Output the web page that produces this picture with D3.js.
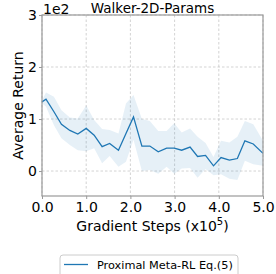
<!DOCTYPE html>
<html lang="en">
<head>
  <meta charset="UTF-8">
  <title>Walker-2D-Params</title>
  <style>
    body { margin: 0; background: #fff; }
    text { font-family: "DejaVu Sans", sans-serif; fill: #000; }
  </style>
</head>
<body>
  <div id="chart"></div>
  <script src="https://d3js.org/d3.v7.min.js"></script>
  <script>
    // gradient steps (x1e5) and return values (x1e2)
    const steps = [0, 0.09, 0.27, 0.44, 0.63, 0.81, 1.00, 1.18, 1.36, 1.53, 1.73, 1.90, 2.07,
      2.26, 2.44, 2.63, 2.82, 2.99, 3.16, 3.35, 3.52, 3.70, 3.88, 4.05, 4.24, 4.42, 4.59, 4.78, 5.0];
    const meanReturn = [1.33, 1.38, 1.14, 0.90, 0.78, 0.71, 0.82, 0.69, 0.47, 0.53, 0.40, 0.72, 1.04,
      0.48, 0.48, 0.37, 0.44, 0.44, 0.40, 0.46, 0.28, 0.30, 0.10, 0.26, 0.21, 0.24, 0.58, 0.52, 0.34];
    const upperReturn = [1.36, 1.51, 1.43, 1.17, 1.03, 1.01, 1.26, 0.98, 0.81, 0.79, 0.72, 1.30, 1.46,
      1.00, 0.96, 0.77, 0.77, 0.92, 0.74, 0.82, 0.66, 0.54, 0.27, 0.58, 0.55, 0.66, 0.96, 0.90, 0.58];
    const lowerReturn = [1.30, 1.24, 0.88, 0.63, 0.50, 0.40, 0.38, 0.44, 0.15, 0.29, 0.08, 0.18, 0.60,
      0.00, 0.02, -0.05, 0.08, -0.05, 0.05, 0.06, -0.13, 0.04, -0.08, -0.06, -0.15, -0.17, 0.20, 0.13, 0.10];
    const xTicks = [0, 1, 2, 3, 4, 5];
    const yTicks = [0, 1, 2, 3];
    const seriesName = "Proximal Meta-RL Eq.(5)";

    const width = 276, height = 274;
    const margin = { left: 42, right: 13, top: 15, bottom: 78 };
    const blue = "#1f77b4";

    const svg = d3.select("#chart").append("svg")
      .attr("width", width).attr("height", height);

    const x = d3.scaleLinear().domain([0, 5]).range([margin.left, width - margin.right]);
    const y = d3.scaleLinear().domain([-0.48, 3]).range([height - margin.bottom, margin.top]);

    // grid
    svg.append("g").selectAll("line").data(xTicks).join("line")
      .attr("x1", d => x(d)).attr("x2", d => x(d))
      .attr("y1", y.range()[1]).attr("y2", y.range()[0])
      .attr("stroke", "#c8c8c8").attr("stroke-width", 0.8).attr("stroke-dasharray", "2.5,2");
    svg.append("g").selectAll("line").data(yTicks).join("line")
      .attr("x1", x.range()[0]).attr("x2", x.range()[1])
      .attr("y1", d => y(d)).attr("y2", d => y(d))
      .attr("stroke", "#c8c8c8").attr("stroke-width", 0.8).attr("stroke-dasharray", "2.5,2");

    const pts = steps.map((s, i) => ({ s, m: meanReturn[i], lo: lowerReturn[i], hi: upperReturn[i] }));

    // std band
    svg.append("path").datum(pts)
      .attr("d", d3.area().x(d => x(d.s)).y0(d => y(d.lo)).y1(d => y(d.hi)))
      .attr("fill", blue).attr("fill-opacity", 0.11);

    svg.append("path").datum(pts)
      .attr("d", d3.line().x(d => x(d.s)).y(d => y(d.m)))
      .attr("fill", "none").attr("stroke", blue).attr("stroke-width", 1.3);

    // axes
    const xAxis = svg.append("g")
      .attr("transform", `translate(0,${height - margin.bottom})`)
      .call(d3.axisBottom(x).tickValues(xTicks).tickFormat(d3.format(".1f")).tickSize(3).tickPadding(3));
    const yAxis = svg.append("g")
      .attr("transform", `translate(${margin.left},0)`)
      .call(d3.axisLeft(y).tickValues(yTicks).tickFormat(d3.format("d")).tickSize(3).tickPadding(2));
    [xAxis, yAxis].forEach(a => {
      a.select(".domain").remove();
      a.selectAll(".tick line").attr("stroke", "#999");
      a.selectAll(".tick text").attr("font-size", 14).attr("font-family", "DejaVu Sans").attr("fill", "#000");
    });

    // frame
    svg.append("rect")
      .attr("x", x.range()[0]).attr("y", y.range()[1])
      .attr("width", x.range()[1] - x.range()[0]).attr("height", y.range()[0] - y.range()[1])
      .attr("fill", "none").attr("stroke", "#999").attr("stroke-width", 1.2);

    svg.append("text").attr("x", 43).attr("y", 14).attr("font-size", 14).text("1e2");
    svg.append("text").attr("x", (x.range()[0] + x.range()[1]) / 2).attr("y", 13)
      .attr("text-anchor", "middle").attr("font-size", 13.5).text("Walker-2D-Params");

    svg.append("text")
      .attr("transform", `translate(23,${(y.range()[0] + y.range()[1]) / 2}) rotate(-90)`)
      .attr("text-anchor", "middle").attr("font-size", 14).text("Average Return");

    const xl = svg.append("text").attr("x", (x.range()[0] + x.range()[1]) / 2).attr("y", 231)
      .attr("text-anchor", "middle").attr("font-size", 14);
    xl.append("tspan").text("Gradient Steps (x10");
    xl.append("tspan").attr("dy", -6).attr("font-size", 10).text("5");
    xl.append("tspan").attr("dy", 6).text(")");

    // legend
    const lg = svg.append("g");
    lg.append("rect").attr("x", 60).attr("y", 255).attr("width", 178).attr("height", 30)
      .attr("rx", 3).attr("fill", "#fff").attr("stroke", "#ccc").attr("stroke-width", 1);
    lg.append("line").attr("x1", 64).attr("x2", 88).attr("y1", 264.5).attr("y2", 264.5)
      .attr("stroke", blue).attr("stroke-width", 1.3);
    lg.append("text").attr("x", 97).attr("y", 268.5).attr("font-size", 11.3).text(seriesName);
  </script>
</body>
</html>
